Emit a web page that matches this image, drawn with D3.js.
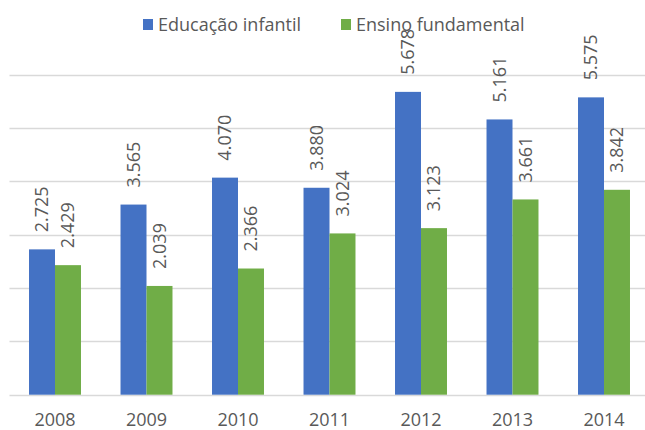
<!DOCTYPE html>
<html>
<head>
<meta charset="utf-8">
<script src="https://cdn.jsdelivr.net/npm/d3@7"></script>
<style>
  html, body { margin: 0; padding: 0; background: #fff; }
  svg { display: block; }
  text { font-family: "Open Sans", "Noto Sans", sans-serif; fill: #595959; }
</style>
</head>
<body>
<svg id="chart" width="645" height="430"></svg>
<script>
// Categories and series
const years = ["2008", "2009", "2010", "2011", "2012", "2013", "2014"];
const seriesNames = ["Educação infantil", "Ensino fundamental"];
const educacaoInfantil = [2.725, 3.565, 4.070, 3.880, 5.678, 5.161, 5.575];
const ensinoFundamental = [2.429, 2.039, 2.366, 3.024, 3.123, 3.661, 3.842];
const gridTicks = [0, 1, 2, 3, 4, 5, 6];
const colors = ["#4472C4", "#70AD47"];

const svg = d3.select("#chart");
const W = 645;

const x = d3.scaleBand()
  .domain(years)
  .range([9.25, 649.75])
  .paddingInner(0.432)
  .paddingOuter(0.216);

const x1 = d3.scaleBand()
  .domain(seriesNames)
  .range([0, x.bandwidth()]);

const y = d3.scaleLinear()
  .domain([0, 6])
  .range([394.7, 74.7]);

// Horizontal gridlines
svg.append("g")
  .selectAll("line")
  .data(gridTicks)
  .join("line")
  .attr("x1", 9.5)
  .attr("x2", W)
  .attr("y1", d => Math.round(y(d)) + 0.5)
  .attr("y2", d => Math.round(y(d)) + 0.5)
  .attr("stroke", "#d9d9d9")
  .attr("stroke-width", 1.3);

const rows = years.map((yr, i) => ({
  year: yr,
  values: [educacaoInfantil[i], ensinoFundamental[i]]
}));

const groups = svg.append("g")
  .selectAll("g")
  .data(rows)
  .join("g")
  .attr("transform", d => `translate(${x(d.year)},0)`);

groups.selectAll("rect")
  .data(d => d.values.map((v, k) => ({ v, k })))
  .join("rect")
  .attr("x", d => x1(seriesNames[d.k]))
  .attr("width", x1.bandwidth())
  .attr("y", d => y(d.v))
  .attr("height", d => y(0) - y(d.v))
  .attr("fill", d => colors[d.k]);

// Rotated value labels above each bar
const fmt = d3.format(".3f");
groups.selectAll("text.val")
  .data(d => d.values.map((v, k) => ({ v, k })))
  .join("text")
  .attr("class", "val")
  .attr("transform", d => {
    const cx = x1(seriesNames[d.k]) + x1.bandwidth() / 2;
    return `translate(${cx},${y(d.v) - 17}) rotate(-90)`;
  })
  .attr("dy", "0.36em")
  .attr("text-anchor", "start")
  .style("font-size", "18px")
  .text(d => fmt(d.v));

// Category axis labels
svg.append("g")
  .selectAll("text")
  .data(years)
  .join("text")
  .attr("x", d => x(d) + x.bandwidth() / 2)
  .attr("y", 425.5)
  .attr("text-anchor", "middle")
  .style("font-size", "18px")
  .text(d => d);

// Legend
const legendPos = [143, 341];
const legend = svg.append("g")
  .selectAll("g")
  .data(seriesNames)
  .join("g")
  .attr("transform", (d, i) => `translate(${legendPos[i]},0)`);

legend.append("rect")
  .attr("x", 0)
  .attr("y", 19)
  .attr("width", 10)
  .attr("height", 11)
  .attr("fill", (d, i) => colors[i]);

legend.append("text")
  .attr("x", 15)
  .attr("y", 31)
  .style("font-size", "18px")
  .text(d => d);
</script>
</body>
</html>
